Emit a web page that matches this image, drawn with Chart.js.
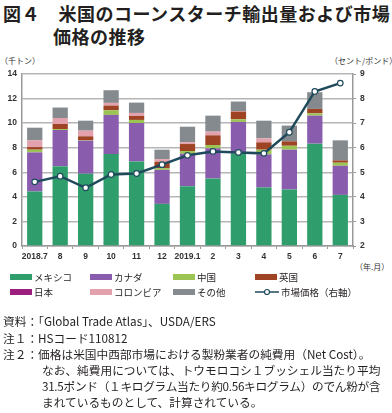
<!DOCTYPE html>
<html>
<head>
<meta charset="utf-8">
<script src="https://cdn.jsdelivr.net/npm/chart.js@4"></script>
<style>
  body { margin: 0; width: 392px; height: 413px; background: #fff; position: relative; overflow: hidden;
         font-family: "Noto Sans CJK JP", "Noto Sans", sans-serif; color: #231f20; }
  .abs { position: absolute; white-space: nowrap; }
  #title { left: 3px; top: 2px; font-size: 18px; font-weight: bold; line-height: 23px; letter-spacing: 0.5px; }
  #title .l2 { padding-left: 50px; }
  .unit { font-size: 8px; color: #333; }
  #chartBox { left: 0; top: 50px; width: 392px; height: 222px; }
  .leg { font-size: 9.5px; display: flex; align-items: center; }
  .sw { width: 22px; height: 6px; margin-right: 2px; display: inline-block; }
  .notes { left: 3px; font-size: 11.7px; line-height: 16px; }
</style>
</head>
<body>
<div id="title" class="abs">図４　米国のコーンスターチ輸出量および市場<br><span class="l2">価格の推移</span></div>
<div class="abs unit" style="left:0px; top:55px;">（千トン）</div>
<div class="abs unit" style="left:330px; top:55px;">（セント/ポンド）</div>
<div class="abs unit" style="left:355px; top:261px;">（年.月）</div>
<div id="chartBox" class="abs"><canvas id="chart"></canvas></div>
<div id="legend"></div>
<div class="abs notes" style="top:313px;">資料：「Global Trade Atlas」、USDA/ERS</div>
<div class="abs notes" style="top:330px;">注１：HSコード110812</div>
<div class="abs notes" style="top:346px;">注２：価格は米国中西部市場における製粉業者の純費用（Net Cost）。</div>
<div class="abs notes" style="top:362px; left:42px;">なお、純費用については、トウモロコシ１ブッシェル当たり平均</div>
<div class="abs notes" style="top:378px; left:42px; letter-spacing:-0.3px;">31.5ポンド（１キログラム当たり約0.56キログラム）のでん粉が含</div>
<div class="abs notes" style="top:394px; left:42px;">まれているものとして、計算されている。</div>
<script>
const months = ['2018.7', '8', '9', '10', '11', '12', '2019.1', '2', '3', '4', '5', '6', '7']
const mexico   = [4.44, 6.50, 5.88, 7.48, 6.88, 3.43, 4.87, 5.50, 7.51, 4.76, 4.60, 8.33, 4.16]
const canada   = [3.18, 2.94, 2.69, 3.19, 3.13, 2.77, 2.64, 2.45, 2.59, 2.70, 3.24, 2.28, 2.37]
const china    = [0.22, 0.08, 0.03, 0.38, 0.25, 0.14, 0.22, 0.27, 0.21, 0.38, 0.32, 0.19, 0.25]
const uk       = [0.21, 0.41, 0.33, 0.38, 0.32, 0.52, 0.57, 0.79, 0.63, 0.60, 0.36, 0.36, 0.19]
const japan    = [0, 0, 0, 0, 0, 0, 0, 0, 0, 0, 0, 0, 0]
const colombia = [0.55, 0.49, 0.46, 0.22, 0.25, 0.21, 0.14, 0.30, 0.05, 0.32, 0, 0, 0]
const others   = [1.03, 0.85, 0.81, 1.03, 0.84, 0.77, 1.27, 1.30, 0.77, 1.44, 1.28, 1.36, 1.63]
const price    = [4.61, 4.84, 4.37, 4.91, 4.95, 5.31, 5.69, 5.85, 5.81, 5.77, 6.63, 8.29, 8.63]

const leftTicks = [0, 2, 4, 6, 8, 10, 12, 14]
const rightTicks = [2, 3, 4, 5, 6, 7, 8, 9]

const series = [
    { label: 'メキシコ', data: mexico, color: '#2f9e6c' },
    { label: 'カナダ', data: canada, color: '#8a5cae' },
    { label: '中国', data: china, color: '#9cc454' },
    { label: '英国', data: uk, color: '#9e4425' },
    { label: '日本', data: japan, color: '#9c1f7f' },
    { label: 'コロンビア', data: colombia, color: '#e3a0ad' },
    { label: 'その他', data: others, color: '#858a8e' },
]
const lineLabel = '市場価格（右軸）'
const lineColor = '#1f4a5c'

// legend, 4 columns
const legendCols = [10, 90, 173, 255]
const legend = document.getElementById('legend')
const legendItems = series.map(s => ({ label: s.label, color: s.color })).concat([{ label: lineLabel, line: true }])
legendItems.forEach((item, i) => {
    const el = document.createElement('div')
    el.className = 'abs leg'
    el.style.left = legendCols[i % 4] + 'px'
    el.style.top = (i < 4 ? 270 : 285) + 'px'
    if (item.line) {
        el.innerHTML = '<svg width="24" height="8" style="margin-right:2px"><line x1="0" y1="4" x2="24" y2="4" stroke="' + lineColor +
            '" stroke-width="1.5"/><circle cx="12" cy="4" r="2.5" fill="#fff" stroke="' + lineColor + '" stroke-width="1.2"/></svg>' + item.label
    } else {
        el.innerHTML = '<span class="sw" style="background:' + item.color + '"></span>' + item.label
    }
    legend.appendChild(el)
})

const datasets = series.map(s => ({
    type: 'bar',
    label: s.label,
    data: s.data,
    backgroundColor: s.color,
    yAxisID: 'y',
    stack: 'exp',
    order: 2,
    barPercentage: 0.6,
    categoryPercentage: 1.0,
}))
datasets.push({
    type: 'line',
    label: lineLabel,
    data: price,
    yAxisID: 'y1',
    borderColor: lineColor,
    borderWidth: 2.5,
    pointBackgroundColor: '#fff',
    pointBorderColor: lineColor,
    pointBorderWidth: 1.2,
    pointRadius: 2.8,
    tension: 0,
    order: 0,
})

const tickFont = { family: 'Liberation Sans, Arial, sans-serif', size: 8.5, weight: 'bold' }

new Chart('chart', {
    data: { labels: months, datasets: datasets },
    options: {
        responsive: true,
        maintainAspectRatio: false,
        animation: false,
        layout: { padding: { top: 24, left: 0, right: 0, bottom: 0 } },
        plugins: { legend: { display: false }, tooltip: { enabled: false } },
        scales: {
            x: {
                stacked: true,
                grid: { display: true, drawOnChartArea: false, drawTicks: true, tickLength: 3, color: '#999', offset: true },
                border: { color: '#999', width: 1.5 },
                ticks: { color: '#333', font: tickFont, padding: 3, maxRotation: 0, autoSkip: false },
                afterFit: s => { s.height = 26 },
            },
            y: {
                stacked: true,
                min: 0, max: 14,
                afterBuildTicks: s => { s.ticks = leftTicks.map(v => ({ value: v })) },
                grid: { color: '#b5b5b5', lineWidth: 1.5, drawTicks: false },
                border: { color: '#999', width: 1.5 },
                ticks: { color: '#333', font: tickFont, padding: 5 },
                afterFit: s => { s.width = 22 },
            },
            y1: {
                position: 'right',
                min: 2, max: 9,
                afterBuildTicks: s => { s.ticks = rightTicks.map(v => ({ value: v })) },
                grid: { drawOnChartArea: false, color: '#999', tickLength: 3 },
                border: { color: '#999', width: 1.5 },
                ticks: { color: '#333', font: tickFont, padding: 4 },
                afterFit: s => { s.width = 39 },
            },
        },
    },
})
</script>
</body>
</html>
